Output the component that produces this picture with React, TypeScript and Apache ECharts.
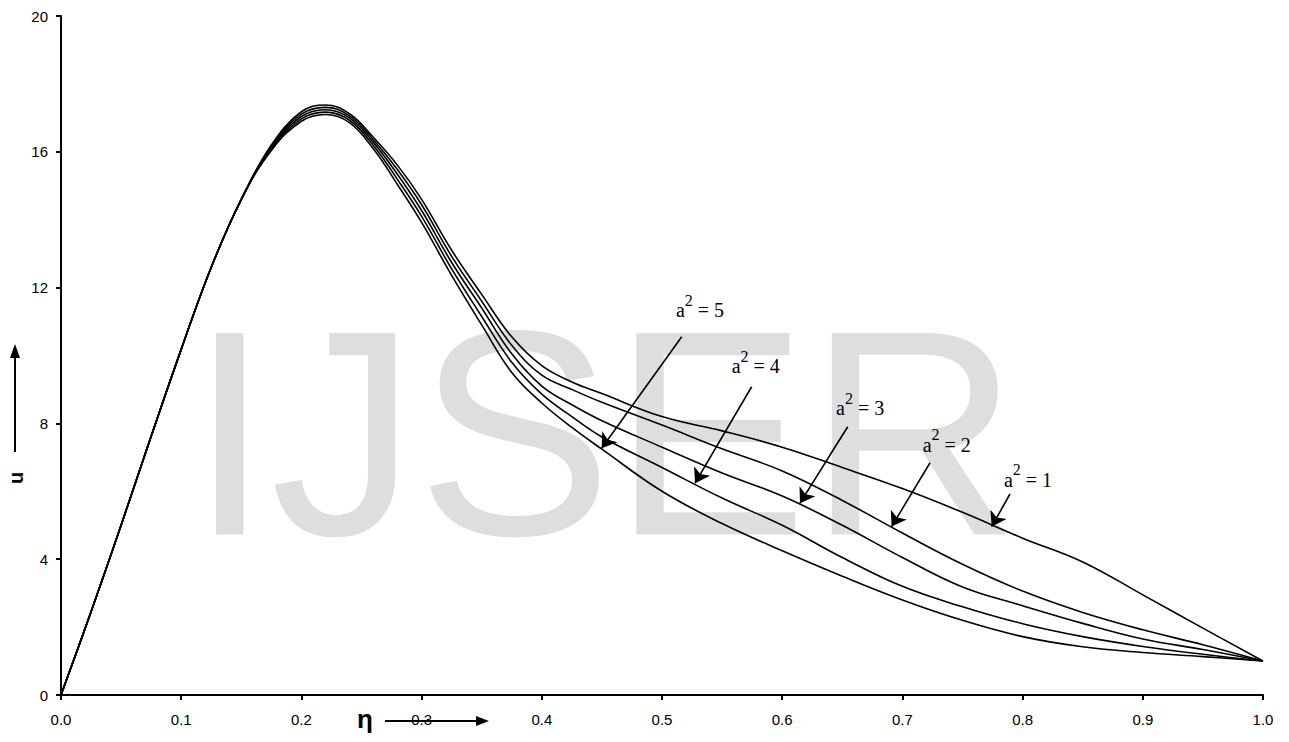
import React, { useEffect, useRef } from "react";
import * as echarts from "echarts";

// η positions (x axis)
const eta = [0, 0.025, 0.05, 0.075, 0.1, 0.125, 0.15, 0.175, 0.2, 0.22, 0.24, 0.26, 0.28, 0.3, 0.325, 0.35, 0.375, 0.4, 0.425, 0.45, 0.5, 0.55, 0.6, 0.65, 0.7, 0.75, 0.8, 0.85, 0.9, 0.95, 1.0];

// velocity u for a^2 = 1 .. 5
const uA1 = [0, 2.45, 5.0, 7.62, 10.18, 12.6, 14.6, 16.2, 17.18, 17.38, 17.12, 16.42, 15.6, 14.6, 13.1, 11.8, 10.55, 9.7, 9.22, 8.88, 8.2, 7.78, 7.3, 6.7, 6.08, 5.38, 4.62, 3.92, 2.95, 1.97, 1.0];
const uA2 = [0, 2.45, 5.0, 7.62, 10.18, 12.6, 14.6, 16.16, 17.11, 17.31, 17.06, 16.35, 15.47, 14.44, 12.92, 11.6, 10.3, 9.42, 9.0, 8.62, 7.95, 7.25, 6.6, 5.73, 4.77, 3.85, 3.06, 2.43, 1.92, 1.48, 1.0];
const uA3 = [0, 2.45, 5.0, 7.62, 10.18, 12.6, 14.6, 16.12, 17.04, 17.24, 17.0, 16.27, 15.33, 14.27, 12.74, 11.4, 10.05, 9.1, 8.55, 8.08, 7.3, 6.54, 5.86, 5.0, 4.05, 3.18, 2.63, 2.11, 1.65, 1.34, 1.0];
const uA4 = [0, 2.45, 5.0, 7.62, 10.18, 12.6, 14.6, 16.08, 16.97, 17.17, 16.93, 16.18, 15.18, 14.1, 12.55, 11.15, 9.8, 8.86, 8.2, 7.6, 6.7, 5.8, 5.0, 4.05, 3.2, 2.6, 2.1, 1.72, 1.43, 1.2, 1.0];
const uA5 = [0, 2.45, 5.0, 7.62, 10.18, 12.6, 14.6, 16.04, 16.9, 17.1, 16.86, 16.08, 15.03, 13.92, 12.36, 10.9, 9.5, 8.6, 7.88, 7.24, 6.0, 5.05, 4.25, 3.5, 2.8, 2.2, 1.72, 1.42, 1.25, 1.13, 1.0];

const seriesValues = [uA1, uA2, uA3, uA4, uA5];
const seriesNames = ["a² = 1", "a² = 2", "a² = 3", "a² = 4", "a² = 5"];

// annotations: a^2 value, label anchor ("a" left edge / baseline), arrow start and tip, in data units
const annotationValues = [5, 4, 3, 2, 1];
const labelEta = [0.5116, 0.558, 0.6448, 0.7169, 0.7845];
const labelU = [11.13, 9.48, 8.25, 7.17, 6.14];
const arrowFromEta = [0.5164, 0.5746, 0.6545, 0.723, 0.7895];
const arrowFromU = [10.55, 9.08, 7.9, 6.84, 5.92];
const arrowToEta = [0.4498, 0.5275, 0.6148, 0.691, 0.7743];
const arrowToU = [7.27, 6.24, 5.65, 4.96, 4.96];

const X_MIN = 0, X_MAX = 1, X_STEP = 0.1;
const Y_MIN = 0, Y_MAX = 20, Y_STEP = 4;

export default function App() {
  const ref = useRef<HTMLDivElement>(null);

  useEffect(() => {
    document.body.style.margin = "0";
    const chart = echarts.init(ref.current!, undefined, { renderer: "svg" });

    const lineSeries = seriesValues.map((vals, si) => ({
      name: seriesNames[si],
      type: "line",
      data: eta.map((x, i) => [x, vals[i]]),
      showSymbol: false,
      smooth: 0.4,
      lineStyle: { color: "#000", width: 1.6 },
      itemStyle: { color: "#000" },
      emphasis: { disabled: true },
      silent: true,
      z: 3,
      ...(si === 0
        ? {
            markLine: {
              silent: true,
              symbol: ["none", "arrow"],
              symbolSize: 14,
              label: { show: false },
              emphasis: { disabled: true },
              lineStyle: { color: "#000", width: 1.6, type: "solid" },
              data: annotationValues.map((_, k) => [
                { coord: [arrowFromEta[k], arrowFromU[k]] },
                { coord: [arrowToEta[k], arrowToU[k]] },
              ]),
            },
          }
        : {}),
    }));

    chart.setOption({
      animation: false,
      backgroundColor: "#fff",
      grid: { left: 61, right: 26, top: 16, bottom: 47, containLabel: false },
      xAxis: {
        type: "value",
        min: X_MIN,
        max: X_MAX,
        interval: X_STEP,
        splitLine: { show: false },
        axisLine: { lineStyle: { color: "#000", width: 2 } },
        axisTick: { show: true, inside: false, length: 5, lineStyle: { color: "#000", width: 2 } },
        axisLabel: {
          margin: 17,
          color: "#000",
          fontFamily: "Liberation Sans",
          fontSize: 15,
          formatter: (v: number) => v.toFixed(1),
        },
      },
      yAxis: {
        type: "value",
        min: Y_MIN,
        max: Y_MAX,
        interval: Y_STEP,
        splitLine: { show: false },
        axisLine: { show: true, lineStyle: { color: "#000", width: 2 } },
        axisTick: { show: true, inside: false, length: 5, lineStyle: { color: "#000", width: 2 } },
        axisLabel: {
          margin: 13,
          color: "#000",
          fontFamily: "Liberation Sans",
          fontSize: 15,
        },
      },
      series: lineSeries,
    });

    const serif = "Liberation Serif";
    const labelGraphics: any[] = annotationValues.map((v, k) => {
      const [px, py] = chart.convertToPixel({ xAxisIndex: 0, yAxisIndex: 0 }, [labelEta[k], labelU[k]]) as number[];
      return {
        type: "text",
        x: px,
        y: py - 24.75,
        silent: true,
        z: 5,
        style: {
          text: `{a|a}{s|2}{a| = ${v}}`,
          align: "left",
          verticalAlign: "top",
          rich: {
            a: { fontSize: 20, fontFamily: serif, fill: "#000", lineHeight: 28, verticalAlign: "bottom" },
            s: { fontSize: 16, fontFamily: serif, fill: "#000", lineHeight: 16, verticalAlign: "top" },
          },
        },
      };
    });

    chart.setOption({
      graphic: [
        {
          type: "text",
          x: 189,
          y: 433,
          z: 0,
          silent: true,
          style: {
            text: "IJSER",
            fontSize: 293,
            fontFamily: "Liberation Sans",
            fill: "#dedede",
            verticalAlign: "middle",
          },
        },
        {
          type: "text",
          x: 365,
          y: 719,
          silent: true,
          style: {
            text: "η",
            fontSize: 26,
            fontFamily: "Liberation Sans",
            fontWeight: "bold",
            fill: "#000",
            align: "center",
            verticalAlign: "middle",
          },
        },
        {
          type: "line",
          silent: true,
          shape: { x1: 385, y1: 721, x2: 478, y2: 721 },
          style: { stroke: "#000", lineWidth: 2 },
        },
        {
          type: "polygon",
          silent: true,
          shape: { points: [[476, 716], [489, 721], [476, 726]] },
          style: { fill: "#000" },
        },
        {
          type: "text",
          x: 16,
          y: 478,
          rotation: Math.PI / 2,
          silent: true,
          style: {
            text: "u",
            fontSize: 20,
            fontFamily: "Liberation Sans",
            fontWeight: "bold",
            fill: "#000",
            align: "center",
            verticalAlign: "middle",
          },
        },
        {
          type: "line",
          silent: true,
          shape: { x1: 15, y1: 452, x2: 15, y2: 356 },
          style: { stroke: "#000", lineWidth: 2 },
        },
        {
          type: "polygon",
          silent: true,
          shape: { points: [[10, 358], [15, 344], [20, 358]] },
          style: { fill: "#000" },
        },
        ...labelGraphics,
      ],
    });

    return () => chart.dispose();
  }, []);

  return (
    <div
      ref={ref}
      style={{ position: "fixed", left: 0, top: 0, width: 1289, height: 742, background: "#fff" }}
    />
  );
}
